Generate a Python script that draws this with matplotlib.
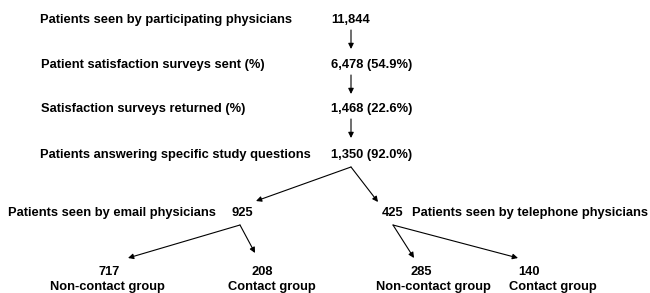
import matplotlib.pyplot as plt

plt.rcParams['font.family'] = ['Liberation Sans', 'DejaVu Sans']

# flow steps (label, count text)
step_labels = ['Patients seen by participating physicians',
               'Patient satisfaction surveys sent (%)',
               'Satisfaction surveys returned (%)',
               'Patients answering specific study questions']
step_counts = ['11,844', '6,478 (54.9%)', '1,468 (22.6%)', '1,350 (92.0%)']

# physician groups
group_labels = ['Patients seen by email physicians', 'Patients seen by telephone physicians']
group_counts = [925, 425]

# contact subgroups
sub_labels = ['Non-contact group', 'Contact group', 'Non-contact group', 'Contact group']
sub_counts = [717, 208, 285, 140]

fig = plt.figure(figsize=(6.5, 2.93), dpi=100)
ax = fig.add_axes([0, 0, 1, 1])
ax.set_xlim(0, 650)
ax.set_ylim(293, 0)
ax.axis('off')

fs = 9.3
arrow = dict(arrowstyle='-|>', color='black', lw=0.8, mutation_scale=8,
             shrinkA=0, shrinkB=0)

def draw_arrow(x0, y0, x1, y1):
    ax.annotate('', xy=(x1, y1), xytext=(x0, y0), arrowprops=arrow)

# vertical chain
step_y = [20, 65, 109, 155]
step_lx = [40, 41, 41, 40]
for lab, cnt, y, lx in zip(step_labels, step_counts, step_y, step_lx):
    ax.text(lx, y, lab, fontsize=fs, fontweight='bold', va='center', ha='left')
    ax.text(331, y, cnt, fontsize=fs, fontweight='bold', va='center', ha='left')
for y in step_y[:-1]:
    draw_arrow(351, y + 10, 351, y + 29)

# split into email / telephone
draw_arrow(351, 167, 256, 201)
draw_arrow(351, 167, 378, 202)
gy = 213
ax.text(8, gy, group_labels[0], fontsize=fs, fontweight='bold', va='center', ha='left')
ax.text(231, gy, str(group_counts[0]), fontsize=fs, fontweight='bold', va='center', ha='left')
ax.text(382, gy, str(group_counts[1]), fontsize=fs, fontweight='bold', va='center', ha='left')
ax.text(648, gy, group_labels[1], fontsize=fs, fontweight='bold', va='center', ha='right')

# split into contact subgroups
draw_arrow(240, 225, 128, 258)
draw_arrow(240, 225, 255, 253)
draw_arrow(393, 225, 414, 258)
draw_arrow(393, 225, 518, 258)

num_cx = [109, 262, 421, 529]
lab_cx = [107, 272, 433, 553]
for cnt, lab, nx, lx in zip(sub_counts, sub_labels, num_cx, lab_cx):
    ax.text(nx, 272, str(cnt), fontsize=fs, fontweight='bold', va='center', ha='center')
    ax.text(lx, 287, lab, fontsize=fs, fontweight='bold', va='center', ha='center')

fig.savefig('out.png', dpi=100)
